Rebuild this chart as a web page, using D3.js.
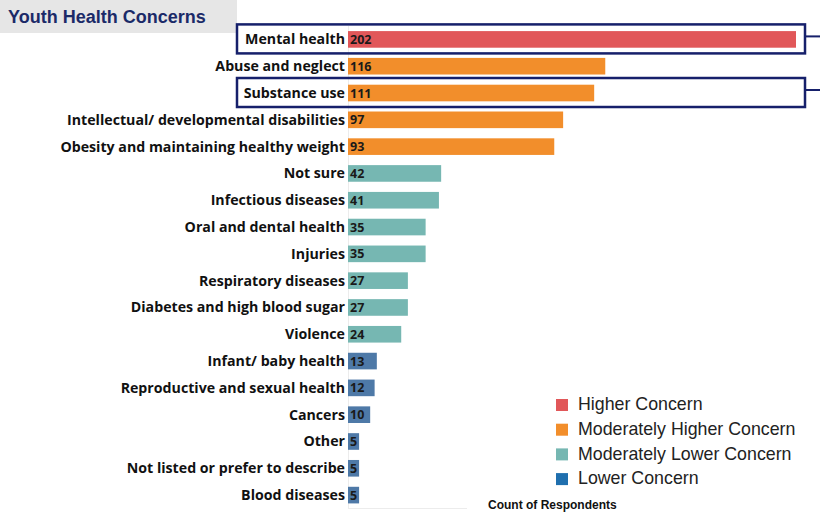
<!DOCTYPE html>
<html>
<head>
<meta charset="utf-8">
<script src="https://cdn.jsdelivr.net/npm/d3@7"></script>
<style>
  html, body { margin: 0; padding: 0; background: #fff; }
  svg { display: block; }
</style>
</head>
<body>
<svg id="chart" width="820" height="512"></svg>
<script>
// Survey responses: youth health concerns, counted per topic
const categories = [
  "Mental health", "Abuse and neglect", "Substance use",
  "Intellectual/ developmental disabilities", "Obesity and maintaining healthy weight",
  "Not sure", "Infectious diseases", "Oral and dental health", "Injuries",
  "Respiratory diseases", "Diabetes and high blood sugar", "Violence",
  "Infant/ baby health", "Reproductive and sexual health", "Cancers",
  "Other", "Not listed or prefer to describe", "Blood diseases"
];
const counts = [202, 116, 111, 97, 93, 42, 41, 35, 35, 27, 27, 24, 13, 12, 10, 5, 5, 5];
const levels = [
  "Higher Concern", "Moderately Higher Concern", "Moderately Higher Concern",
  "Moderately Higher Concern", "Moderately Higher Concern",
  "Moderately Lower Concern", "Moderately Lower Concern", "Moderately Lower Concern",
  "Moderately Lower Concern", "Moderately Lower Concern", "Moderately Lower Concern",
  "Moderately Lower Concern",
  "Lower Concern", "Lower Concern", "Lower Concern", "Lower Concern", "Lower Concern", "Lower Concern"
];
const levelNames = ["Higher Concern", "Moderately Higher Concern", "Moderately Lower Concern", "Lower Concern"];
const highlighted = ["Mental health", "Substance use"];

const barColors = ["#e15759", "#f28e2b", "#76b7b2", "#4e79a7"];
const legendColors = ["#e15759", "#f28e2b", "#76b7b2", "#1f6fae"];

const svg = d3.select("#chart");
const data = categories.map((c, i) => ({ name: c, value: counts[i], level: levels[i] }));

const x0 = 348;
const x = d3.scaleLinear().domain([0, 202]).range([x0, 796]);
const y = d3.scaleBand().domain(categories).range([26, 508.5]).paddingInner(0.38).paddingOuter(0.19);
const color = d3.scaleOrdinal().domain(levelNames).range(barColors);
const legendColor = d3.scaleOrdinal().domain(levelNames).range(legendColors);

// Title banner
svg.append("rect").attr("x", 0).attr("y", 0).attr("width", 237).attr("height", 33).attr("fill", "#e6e6e6");
svg.append("text").attr("x", 8).attr("y", 23)
  .attr("font-family", "Liberation Sans, Arial, sans-serif")
  .attr("font-size", 18).attr("font-weight", "bold").attr("fill", "#1b2a68")
  .text("Youth Health Concerns");

// Faint axis lines
svg.append("line").attr("x1", x0 + 0.5).attr("x2", x0 + 0.5).attr("y1", 26).attr("y2", 508)
  .attr("stroke", "#ececec").attr("stroke-width", 1);
svg.append("line").attr("x1", x0).attr("x2", 467).attr("y1", 508.5).attr("y2", 508.5)
  .attr("stroke", "#ececec").attr("stroke-width", 1);

// Bars
svg.append("g").selectAll("rect").data(data).join("rect")
  .attr("x", x(0))
  .attr("y", d => y(d.name))
  .attr("width", d => x(d.value) - x(0))
  .attr("height", y.bandwidth())
  .attr("fill", d => color(d.level));

// Category labels
svg.append("g").selectAll("text").data(data).join("text")
  .attr("x", x0 - 3)
  .attr("y", d => y(d.name) + y.bandwidth() / 2)
  .attr("dy", "0.35em")
  .attr("text-anchor", "end")
  .attr("font-family", "Open Sans, sans-serif")
  .attr("font-size", 14.2).attr("font-weight", "bold").attr("fill", "#111")
  .text(d => d.name);

// Value labels inside bars
svg.append("g").selectAll("text").data(data).join("text")
  .attr("x", x(0) + 2)
  .attr("y", d => y(d.name) + y.bandwidth() / 2)
  .attr("dy", "0.36em")
  .attr("font-family", "Open Sans, sans-serif")
  .attr("font-size", 12.5).attr("font-weight", "bold").attr("fill", "#1a1a1a")
  .text(d => d.value);

// Highlight frames around selected rows
highlighted.forEach(name => {
  const cy = y(name) + y.bandwidth() / 2;
  svg.append("rect")
    .attr("x", 237).attr("y", cy - 15)
    .attr("width", 568).attr("height", 29)
    .attr("fill", "none").attr("stroke", "#16206b").attr("stroke-width", 2.5);
  svg.append("line")
    .attr("x1", 806).attr("x2", 820).attr("y1", cy - 3).attr("y2", cy - 3)
    .attr("stroke", "#16206b").attr("stroke-width", 2);
});

// Legend
const legend = svg.append("g").selectAll("g").data(levelNames).join("g")
  .attr("transform", (d, i) => `translate(556, ${404 + i * 24.7})`);
legend.append("rect").attr("x", 0).attr("y", -5).attr("width", 12).attr("height", 12)
  .attr("fill", d => legendColor(d));
legend.append("text").attr("x", 22).attr("y", 0).attr("dy", "0.35em")
  .attr("font-family", "Liberation Sans, Arial, sans-serif")
  .attr("font-size", 17.8).attr("fill", "#222")
  .text(d => d);

// Axis title
svg.append("text").attr("x", 488).attr("y", 505).attr("dy", "0.35em")
  .attr("font-family", "Liberation Sans, Arial, sans-serif")
  .attr("font-size", 12).attr("font-weight", "bold").attr("fill", "#111")
  .text("Count of Respondents");
</script>
</body>
</html>
